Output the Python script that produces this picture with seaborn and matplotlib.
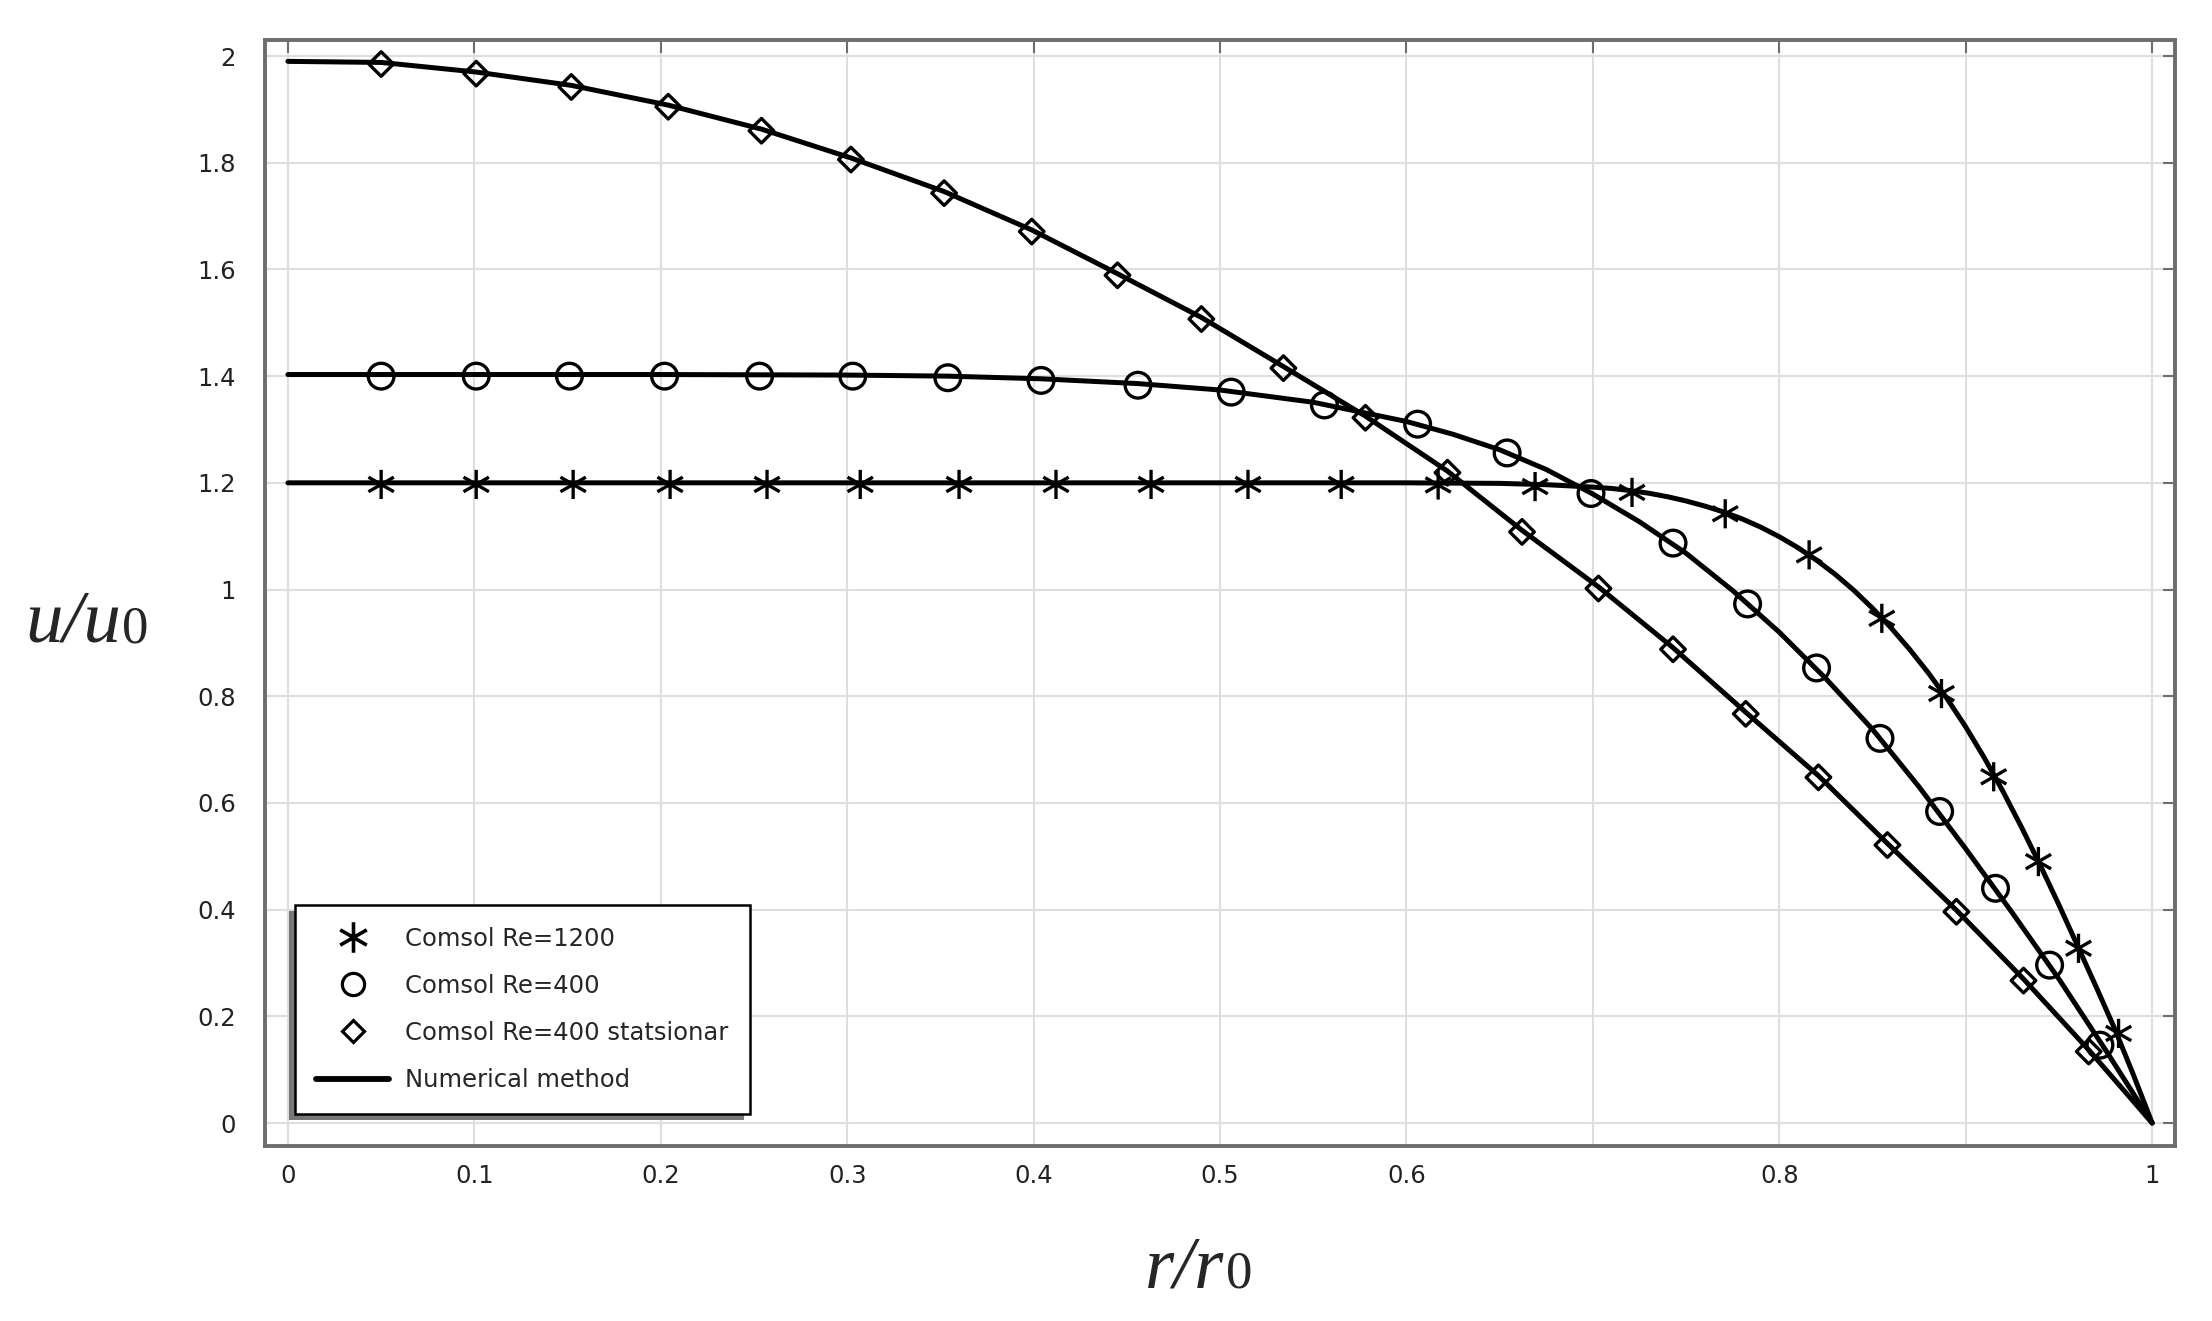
"""Velocity profiles u/u0 vs r/r0: Comsol points vs numerical method lines."""
import numpy as np
import matplotlib
matplotlib.use("Agg")
import matplotlib.pyplot as plt
from matplotlib.path import Path
from matplotlib.lines import Line2D
from matplotlib.patches import Rectangle
from matplotlib.transforms import IdentityTransform
import seaborn as sns

INK, FRAME, GRID, TICK, SHADOW = "#000000", "#6e6e6e", "#dedede", "#222222", "#777777"

# ---- Comsol points ----
r_1200 = [0.050, 0.101, 0.153, 0.205, 0.257, 0.307, 0.360, 0.412, 0.463, 0.515, 0.565,
          0.617, 0.669, 0.721, 0.771, 0.816, 0.855, 0.887, 0.915, 0.939, 0.9605, 0.982]
u_1200 = [1.197, 1.197, 1.197, 1.197, 1.197, 1.197, 1.197, 1.197, 1.197, 1.197, 1.197,
          1.196, 1.193, 1.182, 1.142, 1.065, 0.946, 0.805, 0.649, 0.490, 0.3275, 0.168]

r_400 = [0.050, 0.101, 0.151, 0.202, 0.253, 0.303, 0.354, 0.404, 0.456, 0.506, 0.556,
         0.606, 0.654, 0.699, 0.743, 0.783, 0.820, 0.854, 0.886, 0.916, 0.945, 0.972]
u_400 = [1.400, 1.400, 1.400, 1.400, 1.400, 1.400, 1.397, 1.392, 1.383, 1.370, 1.346,
         1.310, 1.256, 1.180, 1.087, 0.973, 0.853, 0.721, 0.584, 0.440, 0.296, 0.146]

r_stat = [0.050, 0.101, 0.152, 0.204, 0.254, 0.302, 0.352, 0.399, 0.445, 0.490, 0.534,
          0.578, 0.622, 0.662, 0.703, 0.743, 0.782, 0.821, 0.858, 0.895, 0.931, 0.966]
u_stat = [1.985, 1.967, 1.942, 1.905, 1.860, 1.806, 1.743, 1.671, 1.589, 1.507, 1.415,
          1.322, 1.219, 1.108, 1.002, 0.888, 0.767, 0.648, 0.521, 0.396, 0.267, 0.134]

# ---- numerical method lines ----
num_r_1200 = [0.0, 0.10, 0.20, 0.30, 0.40, 0.50, 0.60, 0.65, 0.675, 0.70, 0.71, 0.72,
              0.73, 0.74, 0.75, 0.76, 0.77, 0.78, 0.79, 0.80, 0.81, 0.82, 0.83, 0.84,
              0.85, 0.86, 0.87, 0.88, 0.89, 0.90, 0.91, 0.92, 0.93, 0.94, 0.95, 0.96,
              0.97, 0.98, 0.99, 1.0]
num_u_1200 = [1.200, 1.200, 1.200, 1.200, 1.200, 1.200, 1.200, 1.199, 1.1965, 1.192,
              1.1895, 1.1855, 1.1805, 1.174, 1.166, 1.1565, 1.1455, 1.1325, 1.117, 1.099,
              1.0785, 1.055, 1.0285, 0.9985, 0.965, 0.928, 0.8875, 0.8435, 0.7955, 0.7425,
              0.6845, 0.6215, 0.554, 0.483, 0.409, 0.332, 0.255, 0.176, 0.090, 0.0]

num_r_400 = [0.0, 0.10, 0.20, 0.30, 0.354, 0.404, 0.456, 0.50, 0.55, 0.60, 0.625, 0.65,
             0.675, 0.70, 0.725, 0.75, 0.775, 0.80, 0.825, 0.85, 0.875, 0.90, 0.925,
             0.95, 0.975, 1.0]
num_u_400 = [1.403, 1.403, 1.403, 1.402, 1.400, 1.395, 1.386, 1.374, 1.351, 1.315, 1.291,
             1.262, 1.225, 1.179, 1.127, 1.068, 0.998, 0.920, 0.833, 0.738, 0.630, 0.514,
             0.394, 0.270, 0.137, 0.0]

num_r_stat = [0.0, 0.050, 0.101, 0.152, 0.204, 0.254, 0.302, 0.352, 0.399, 0.445, 0.490,
              0.534, 0.578, 0.622, 0.662, 0.703, 0.743, 0.782, 0.821, 0.858, 0.895,
              0.931, 0.966, 1.0]
num_u_stat = [1.990, 1.988, 1.970, 1.945, 1.908, 1.863, 1.809, 1.746, 1.674, 1.592, 1.510,
              1.418, 1.325, 1.222, 1.111, 1.005, 0.891, 0.770, 0.651, 0.524, 0.399,
              0.270, 0.137, 0.0]

labels = ["Comsol Re=1200", "Comsol Re=400", "Comsol Re=400 statsionar", "Numerical method"]
x_ticks = [0.0, 0.1, 0.2, 0.3, 0.4, 0.5, 0.6, 0.7, 0.8, 0.9, 1.0]
x_ticklabels = ["0", "0.1", "0.2", "0.3", "0.4", "0.5", "0.6", "", "0.8", "", "1"]
y_ticks = [0.0, 0.2, 0.4, 0.6, 0.8, 1.0, 1.2, 1.4, 1.6, 1.8, 2.0]
y_ticklabels = ["0", "0.2", "0.4", "0.6", "0.8", "1", "1.2", "1.4", "1.6", "1.8", "2"]

sns.set_theme(style="white")
plt.rcParams.update({"font.family": ["DejaVu Sans"], "axes.edgecolor": FRAME})

# asterisk marker: vertical bar + two diagonals
STAR = Path([(0, 1), (0, -1), (-0.87, 0.5), (0.87, -0.5), (-0.87, -0.5), (0.87, 0.5)],
            [Path.MOVETO, Path.LINETO, Path.MOVETO, Path.LINETO, Path.MOVETO, Path.LINETO])

fig = plt.figure(figsize=(22.12, 13.21), dpi=100)
ax = fig.add_axes([0.1198, 0.1325, 0.8635, 0.8372])

for r, u in [(num_r_1200, num_u_1200), (num_r_400, num_u_400), (num_r_stat, num_u_stat)]:
    sns.lineplot(x=r, y=u, ax=ax, color=INK, lw=3.6, sort=False, estimator=None, zorder=3)

pts = [(r_1200, u_1200, STAR, 21), (r_400, u_400, "o", 18.5), (r_stat, u_stat, "D", 12.5)]
for r, u, m, ms in pts:
    sns.scatterplot(x=r, y=u, ax=ax, marker=m, s=ms ** 2, facecolor="none",
                    edgecolor=INK, linewidth=2.4, zorder=4)

ax.set_xlim(-0.0123, 1.0123)
ax.set_ylim(-0.043, 2.030)
ax.set_xticks(x_ticks, x_ticklabels)
ax.set_yticks(y_ticks, y_ticklabels)
ax.grid(True, color=GRID, lw=1.5)
ax.set_axisbelow(True)
for s in ax.spines.values():
    s.set_linewidth(2.8); s.set_color(FRAME)
ax.tick_params(direction="in", length=9, width=1.5, color=FRAME, top=True, right=True,
               labelsize=17.5, labelcolor=TICK)
ax.tick_params(axis="y", pad=21)
ax.tick_params(axis="x", pad=13)
ax.set_xlabel(""); ax.set_ylabel("")

# legend
handles = [
    Line2D([], [], ls="none", marker=STAR, ms=22, mec=INK, mfc="none", mew=2.6),
    Line2D([], [], ls="none", marker="o", ms=16, mec=INK, mfc="none", mew=2.3),
    Line2D([], [], ls="none", marker="D", ms=11, mec=INK, mfc="none", mew=2.3),
    Line2D([], [], color=INK, lw=4.2),
]
leg = ax.legend(handles, labels, loc="lower left", bbox_to_anchor=(0.0155, 0.029),
                borderaxespad=0, fontsize=17.5, frameon=True, fancybox=False, edgecolor=INK,
                framealpha=1, handlelength=3.0, handletextpad=0.65, labelspacing=0.95,
                borderpad=0.9)
leg.get_frame().set_linewidth(1.8)
leg.set_zorder(6)

# axis labels: italic serif with an upright "0"
ylab = fig.text(25 / 2212, 1 - 642 / 1321, "u/u", fontfamily="Liberation Serif",
                style="italic", fontsize=54, va="baseline", ha="left")
ax.annotate("0", xy=(1, 0), xycoords=ylab, xytext=(1, 11.5), textcoords="offset points",
            fontfamily="Liberation Serif", fontsize=38, va="baseline", ha="left",
            annotation_clip=False)
xlab = fig.text(1145 / 2212, 1 - 1287 / 1321, "r/r", fontfamily="Liberation Serif",
                style="italic", fontsize=54, va="baseline", ha="left")
ax.annotate("0", xy=(1, 0), xycoords=xlab, xytext=(1, 11.5), textcoords="offset points",
            fontfamily="Liberation Serif", fontsize=38, va="baseline", ha="left",
            annotation_clip=False)

# drop shadow behind the legend (offset down-left, as in the reference)
fig.canvas.draw()
bb = leg.get_window_extent()
ax.add_artist(Rectangle((bb.x0 - 6, bb.y0 - 6), bb.width, bb.height, transform=IdentityTransform(),
                        facecolor=SHADOW, edgecolor="none", zorder=5.5, clip_on=False))

fig.savefig("out.png", dpi=100)
